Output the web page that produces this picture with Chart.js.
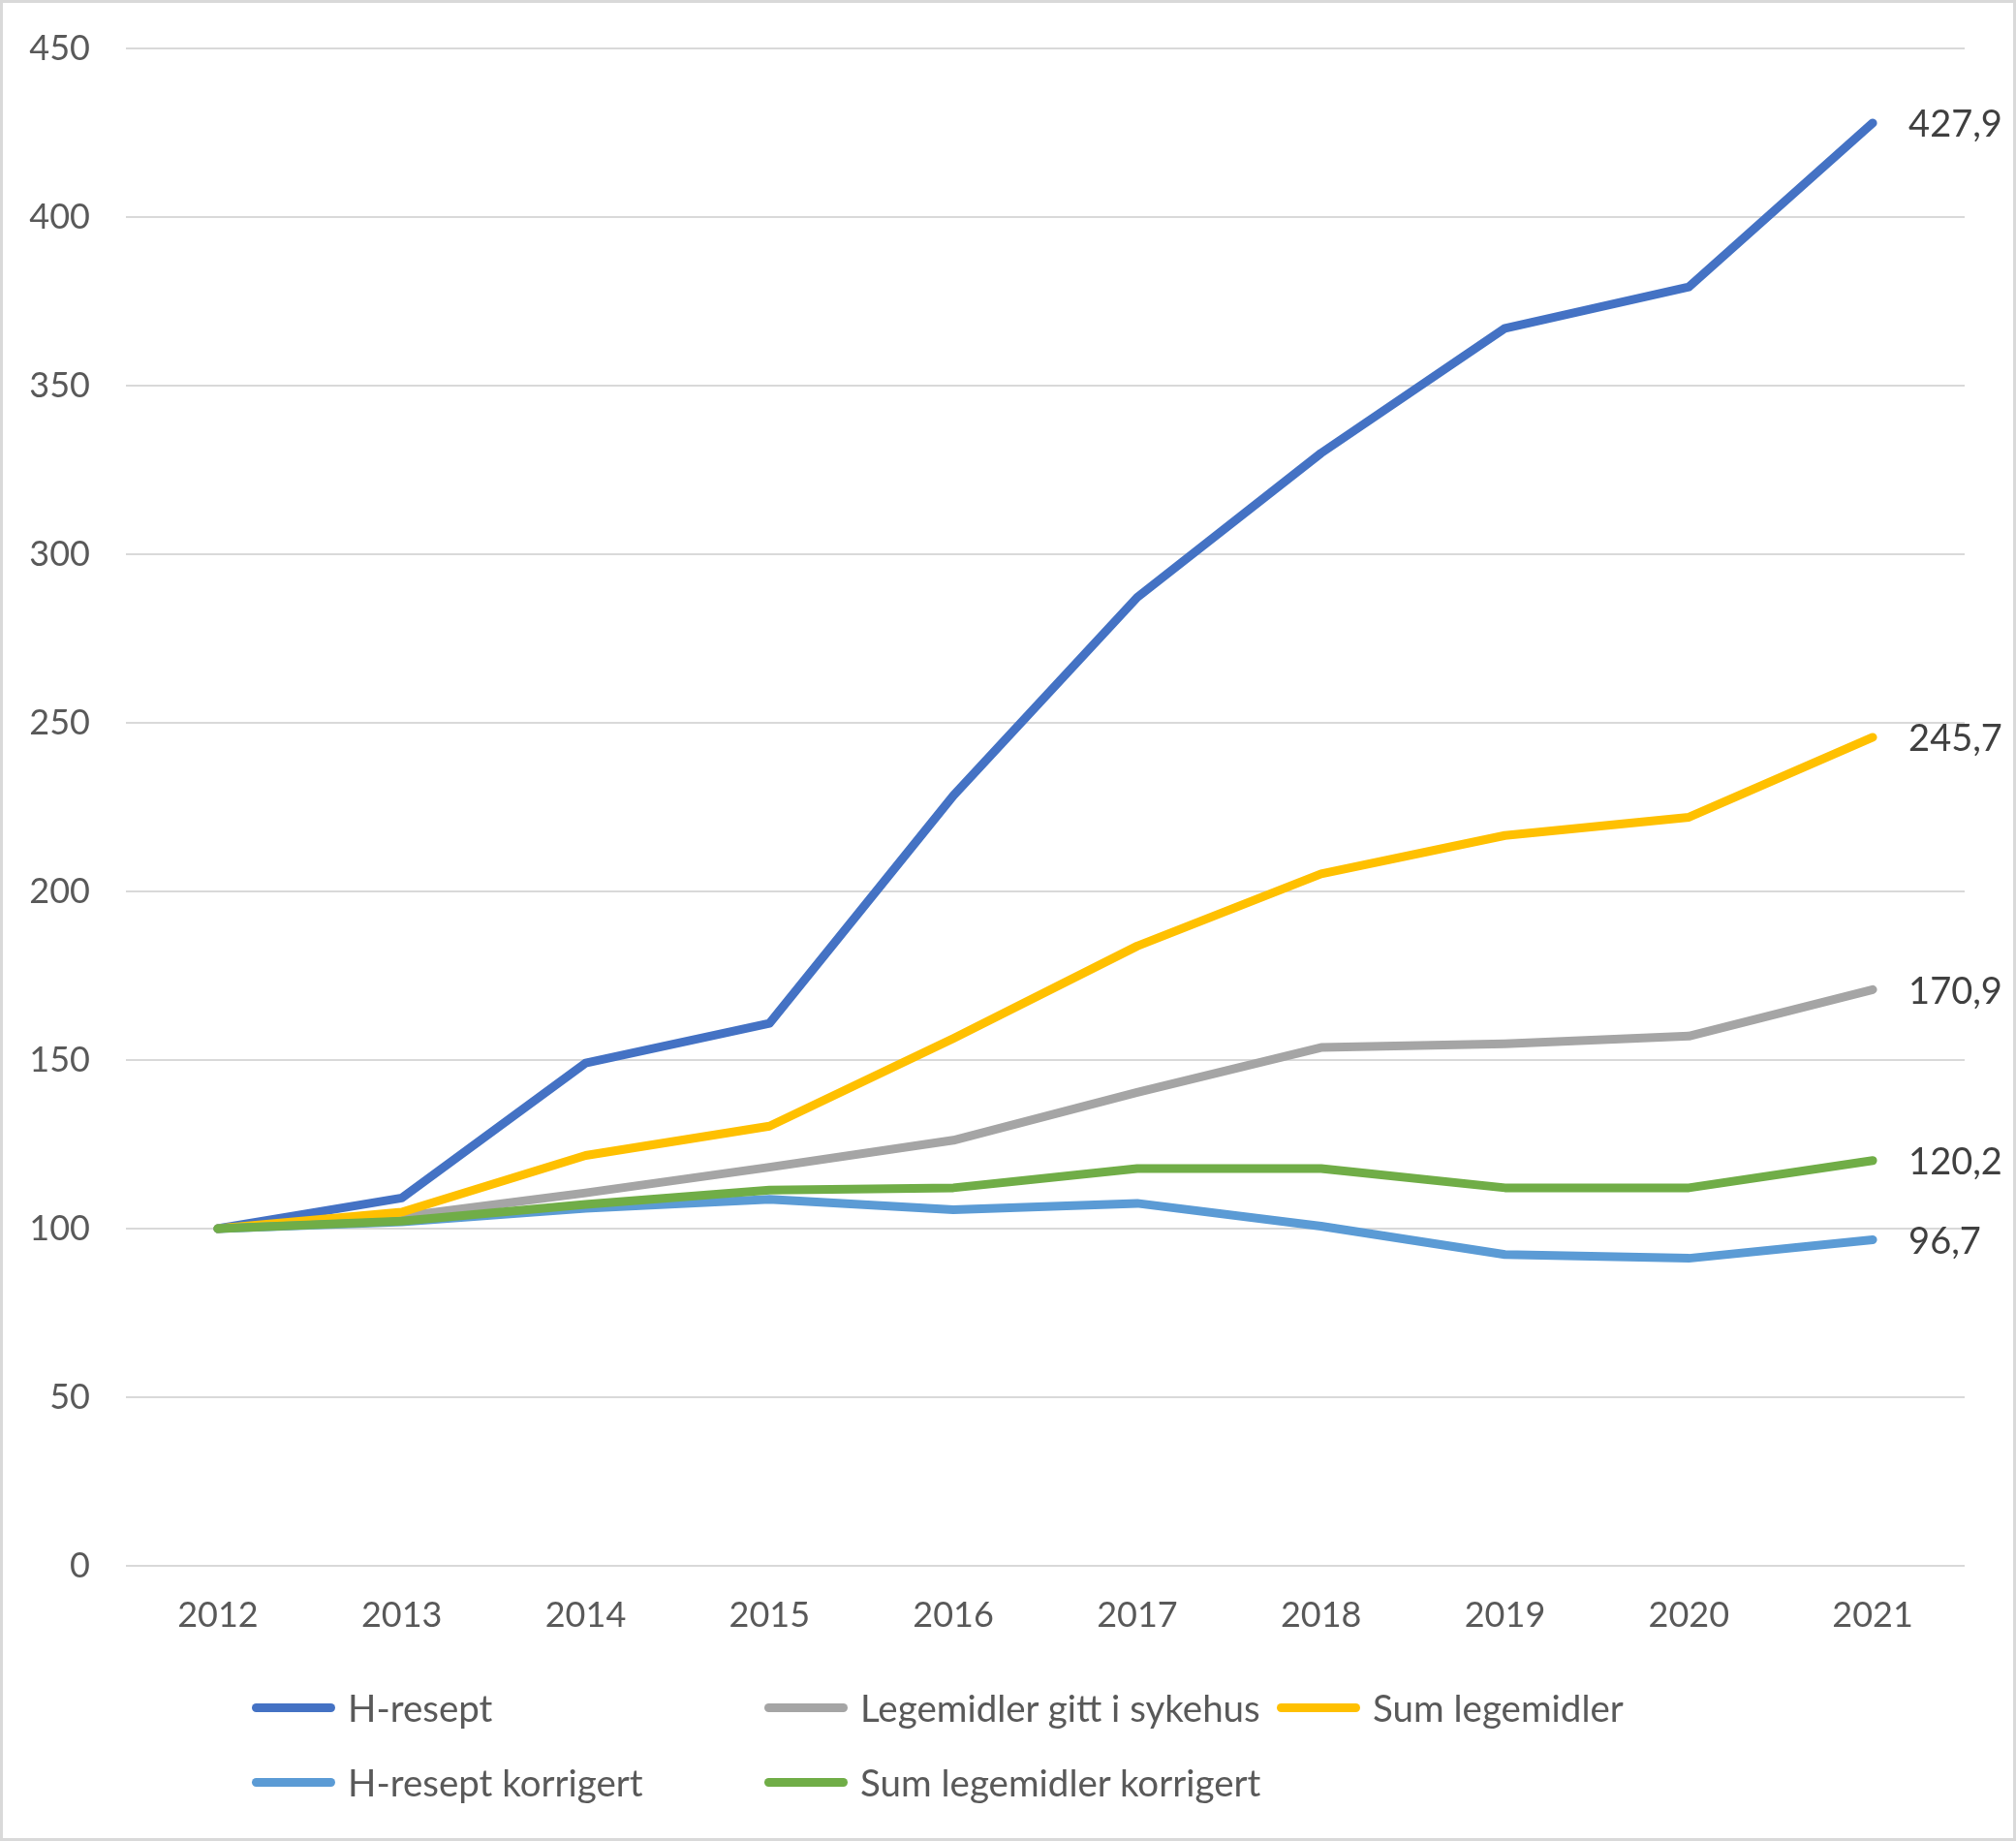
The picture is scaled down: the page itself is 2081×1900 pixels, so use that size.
<!DOCTYPE html>
<html>
<head>
<meta charset="utf-8">
<script src="https://cdn.jsdelivr.net/npm/chart.js@4.4.1/dist/chart.umd.min.js"></script>
<style>
  body { margin: 0; background: #fff; }
  #wrap { position: relative; width: 2081px; height: 1900px; }
  #frame { position: absolute; left: 0; top: 0; width: 2081px; height: 1900px; box-sizing: border-box;
           border: 3px solid #d9d9d9; pointer-events: none; }
  .leg { position: absolute; height: 50px; display: flex; align-items: center; white-space: nowrap;
         font-family: Lato, sans-serif; font-size: 38.5px; color: #595959; }
  .leg .ln { display: inline-block; width: 86px; height: 9px; border-radius: 4.5px; margin-right: 13px; }
</style>
</head>
<body>
<div id="wrap">
  <canvas id="chart" width="2081" height="1900"></canvas>
  <div id="legend"></div>
  <div id="frame"></div>
</div>
<script>
const years = ['2012', '2013', '2014', '2015', '2016', '2017', '2018', '2019', '2020', '2021'];

const hResept = [100, 109.1, 149.1, 160.9, 228.4, 287.2, 330.0, 367.0, 379.3, 427.9];
const sykehus = [100, 103.6, 110.6, 118.2, 126.2, 140.4, 153.7, 154.8, 157.1, 170.9];
const sumLegemidler = [100, 104.9, 121.7, 130.4, 156.4, 183.8, 205.2, 216.6, 222.0, 245.7];
const hReseptKorr = [100, 102.0, 106.0, 108.7, 105.6, 107.5, 100.7, 92.3, 91.2, 96.7];
const sumKorr = [100, 102.2, 107.2, 111.4, 112.1, 117.8, 117.8, 112.1, 112.1, 120.2];

const seriesNames = ['H-resept', 'Legemidler gitt i sykehus', 'Sum legemidler',
                     'H-resept korrigert', 'Sum legemidler korrigert'];
const seriesData = [hResept, sykehus, sumLegemidler, hReseptKorr, sumKorr];
const seriesColors = ['#4472C4', '#A5A5A5', '#FFC000', '#5B9BD5', '#70AD47'];

const yTicks = [0, 50, 100, 150, 200, 250, 300, 350, 400, 450];

// value labels at the end of each line
const endLabels = {
  id: 'endLabels',
  afterDatasetsDraw(chart) {
    const ctx = chart.ctx;
    ctx.save();
    ctx.font = '38px Lato, sans-serif';
    ctx.fillStyle = '#404040';
    ctx.textAlign = 'left';
    ctx.textBaseline = 'middle';
    chart.data.datasets.forEach((ds, i) => {
      const meta = chart.getDatasetMeta(i);
      const pt = meta.data[meta.data.length - 1];
      const v = ds.data[ds.data.length - 1];
      ctx.fillText(v.toFixed(1).replace('.', ','), pt.x + 37, pt.y + 2);
    });
    ctx.restore();
  }
};

const datasets = seriesNames.map((name, i) => ({
  label: name,
  data: seriesData[i],
  borderColor: seriesColors[i],
  backgroundColor: seriesColors[i],
  borderWidth: 9,
  pointRadius: 0,
  borderCapStyle: 'round',
  borderJoinStyle: 'round',
  tension: 0,
  order: seriesNames.length - 1 - i
}));

new Chart(document.getElementById('chart').getContext('2d'), {
  type: 'line',
  data: { labels: years, datasets: datasets },
  options: {
    responsive: false,
    animation: false,
    layout: { padding: { left: 0, top: 50, right: 53, bottom: 184 } },
    plugins: { legend: { display: false }, tooltip: { enabled: false } },
    scales: {
      x: {
        offset: true,
        grid: { display: false, drawTicks: false },
        border: { display: false },
        ticks: { color: '#595959', font: { family: 'Lato', size: 36 }, padding: 30, maxRotation: 0 },
        afterFit(scale) { scale.height = 100; scale.paddingLeft = 0; scale.paddingRight = 0; }
      },
      y: {
        min: 0,
        max: 450,
        afterBuildTicks(scale) { scale.ticks = yTicks.map(v => ({ value: v })); },
        grid: { color: '#d9d9d9', lineWidth: 2, drawTicks: false },
        border: { display: false },
        ticks: { color: '#595959', font: { family: 'Lato', size: 36 }, padding: 37 },
        afterFit(scale) { scale.width = 130; scale.paddingTop = 0; scale.paddingBottom = 0; }
      }
    }
  },
  plugins: [endLabels]
});

// legend in Excel-style columns
const legend = document.getElementById('legend');
seriesNames.forEach((name, i) => {
  const col = i % 3, row = Math.floor(i / 3);
  const item = document.createElement('div');
  item.className = 'leg';
  item.style.left = (260 + col * 529) + 'px';
  item.style.top = (1737 + row * 77) + 'px';
  const ln = document.createElement('span');
  ln.className = 'ln';
  ln.style.background = seriesColors[i];
  item.appendChild(ln);
  item.appendChild(document.createTextNode(name));
  legend.appendChild(item);
});
</script>
</body>
</html>
